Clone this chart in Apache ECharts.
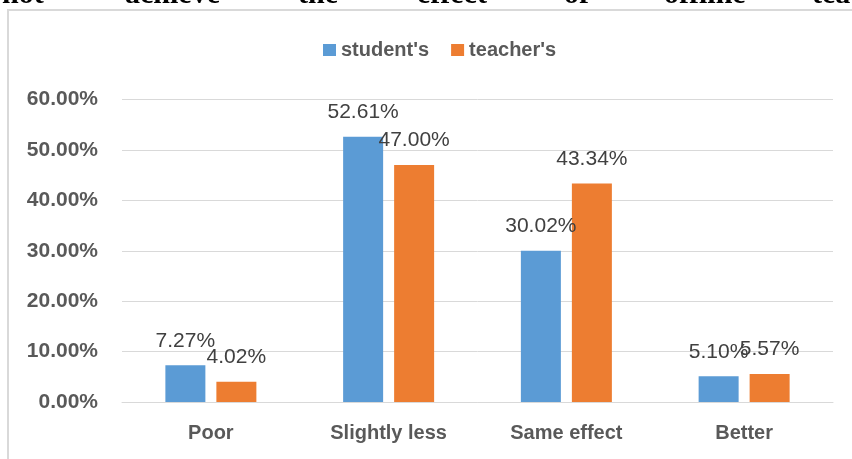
<!DOCTYPE html>
<html>
<head>
<meta charset="utf-8">
<script src="https://cdn.jsdelivr.net/npm/echarts@6/dist/echarts.min.js"></script>
<style>
  html, body { margin: 0; padding: 0; background: #fff; }
  #chart { width: 852px; height: 459px; }
</style>
</head>
<body>
<div id="chart"></div>
<script>
// categories and values
var categories = ['Poor', 'Slightly less', 'Same effect', 'Better'];
var studentVals = [7.27, 52.61, 30.02, 5.10];
var teacherVals = [4.02, 47.00, 43.34, 5.57];
var seriesNames = ["student's", "teacher's"];
// cut-off line of body text above the chart
var topWords = ['not', 'achieve', 'the', 'effect', 'of', 'offline', 'tea'];
var topWordX = [2, 125, 298, 417, 564, 664, 812];

var chart = echarts.init(document.getElementById('chart'));

var graphics = [{
    type: 'rect',
    shape: { x: 8, y: 10, width: 900, height: 500 },
    style: { fill: 'none', stroke: '#d9d9d9', lineWidth: 2 },
    silent: true
}];
topWords.forEach(function (w, i) {
    graphics.push({
        type: 'text',
        x: topWordX[i],
        y: 10,
        style: {
            text: w,
            font: 'bold 30px "Liberation Serif", serif',
            fill: '#000',
            verticalAlign: 'bottom'
        },
        silent: true
    });
});

var labelStyle = {
    show: true,
    position: 'top',
    distance: 14,
    color: '#404040',
    fontFamily: 'Liberation Sans',
    fontSize: 21,
    formatter: function (p) { return p.value.toFixed(2) + '%'; }
};

var option = {
    animation: false,
    textStyle: { fontFamily: 'Liberation Sans' },
    graphic: graphics,
    legend: {
        data: seriesNames,
        left: 318,
        top: 35,
        itemWidth: 13,
        itemHeight: 12,
        itemGap: 22,
        icon: 'rect',
        textStyle: { color: '#595959', fontSize: 20, fontWeight: 'bold', fontFamily: 'Liberation Sans' }
    },
    grid: { left: 122, right: 19, top: 99.5, bottom: 57, containLabel: false },
    xAxis: {
        type: 'category',
        data: categories,
        axisLine: { lineStyle: { color: '#d9d9d9', width: 1 } },
        axisTick: { show: false },
        axisLabel: { color: '#595959', fontSize: 20, fontWeight: 'bold', margin: 21 }
    },
    yAxis: {
        type: 'value',
        min: 0,
        max: 60,
        interval: 10,
        axisLine: { show: false },
        axisTick: { show: false },
        splitLine: { lineStyle: { color: '#d9d9d9', width: 1 } },
        axisLabel: {
            color: '#595959', fontSize: 21, fontWeight: 'bold', margin: 24,
            formatter: function (v) { return v.toFixed(2) + '%'; }
        }
    },
    series: [{
        name: seriesNames[0],
        type: 'bar',
        data: studentVals,
        barWidth: 40,
        barGap: '27.5%',
        itemStyle: { color: '#5b9bd5' },
        label: labelStyle
    }, {
        name: seriesNames[1],
        type: 'bar',
        data: teacherVals,
        barWidth: 40,
        barGap: '27.5%',
        itemStyle: { color: '#ed7d31' },
        label: labelStyle
    }]
};

chart.setOption(option);
</script>
</body>
</html>
